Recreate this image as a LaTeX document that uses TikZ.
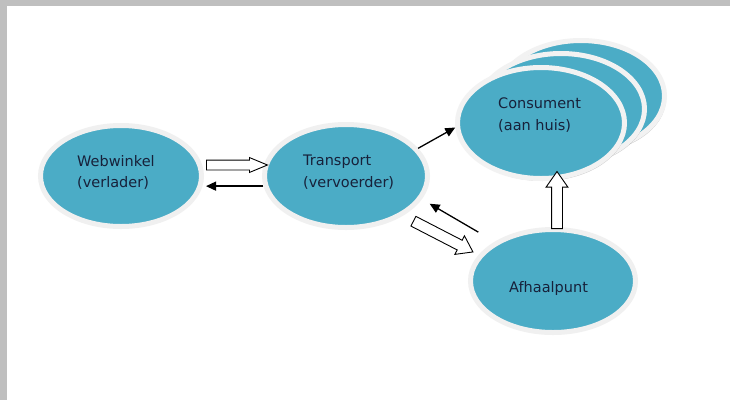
\documentclass[tikz,border=0pt]{standalone}
\usepackage{fontspec}
\setmainfont{DejaVu Sans}
\usetikzlibrary{shapes.geometric,shapes.arrows,arrows.meta,shadows}
\definecolor{tealfill}{HTML}{4BACC6}
\definecolor{ringgray}{HTML}{F0F0F0}
\definecolor{framegray}{HTML}{BFBFBF}
\definecolor{txt}{HTML}{17213A}
\begin{document}
\begin{tikzpicture}[x=1pt,y=-1pt,
  oval/.style={ellipse, fill=tealfill, draw=ringgray, line width=5pt, inner sep=0pt},
  stackoval/.style={oval, draw=white!95!black, minimum width=167pt, minimum height=111pt,
    drop shadow={shadow xshift=1.5pt, shadow yshift=-2.5pt, fill=black, opacity=0.2}},
  lbl/.style={anchor=base west, inner sep=0pt, text=txt, font=\fontsize{14.5}{17}\selectfont},
  thinarrow/.style={line width=1.3pt, -{Triangle[length=10pt,width=9pt]}},
  blockarrow/.style={single arrow, draw=black, fill=white, line width=0.9pt,
    inner xsep=0pt, text height=0pt, text depth=0pt, single arrow head indent=0pt, anchor=tail}
]
\useasboundingbox (0,0) rectangle (730,400);
\fill[white] (0,0) rectangle (730,400);
\fill[framegray] (0,0) rectangle (730,6);
\fill[framegray] (0,0) rectangle (7,400);

% ellipses
\node[oval, minimum width=161pt, minimum height=101pt] (web) at (121,176) {};
\node[oval, minimum width=163pt, minimum height=103pt] (trans) at (346,176) {};
\node[oval, minimum width=165pt, minimum height=103pt] (afh) at (553,281) {};
\node[stackoval] (consc) at (581,96) {};
\node[stackoval] (consb) at (561,109) {};
\node[stackoval] (cons) at (541,123) {};

% labels
\node[lbl] (web1) at (77,166) {Webwinkel};
\node[lbl] (web2) at (77,187) {(verlader)};
\node[lbl] (tr1) at (303,165) {Transport};
\node[lbl] (tr2) at (303,187) {(vervoerder)};
\node[lbl] (co1) at (498,108) {Consument};
\node[lbl] (co2) at (498,130) {(aan huis)};
\node[lbl] (af1) at (509,292) {Afhaalpunt};

% block arrows
\node[blockarrow, inner ysep=4.5pt, single arrow head extend=2.5pt, single arrow tip angle=45,
  minimum height=61pt] (a1) at (206,165) {};
\node[blockarrow, inner ysep=5pt, single arrow head extend=5.5pt, single arrow tip angle=70,
  minimum height=57pt, rotate=90] (a6) at (557,229) {};
\node[blockarrow, inner ysep=5pt, single arrow head extend=5pt, single arrow tip angle=70,
  minimum height=67pt, rotate=-27.3] (a5) at (413,221) {};

% thin arrows
\draw[thinarrow, shorten >=2pt] (trans.187.5) -- (trans.187.5 -| web.east);
\draw[thinarrow] (trans.21) -- (cons.183);
\draw[thinarrow, shorten <=19pt, shorten >=9pt] (afh.146.3) -- (trans.-17.2);
\end{tikzpicture}
\end{document}
